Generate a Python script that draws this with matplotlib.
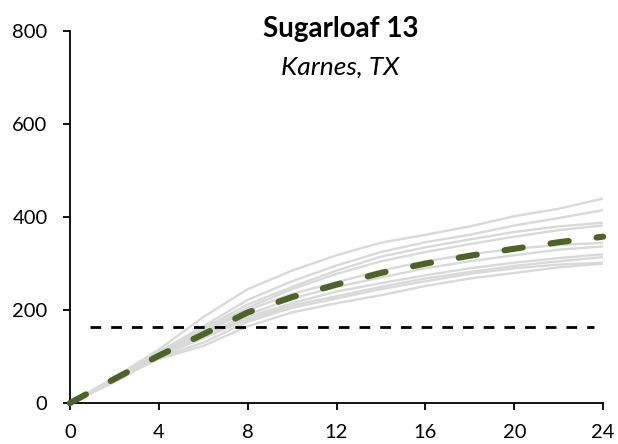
import matplotlib
matplotlib.use('Agg')
import matplotlib.pyplot as plt

plt.rcParams['font.family'] = ['Lato', 'DejaVu Sans']

months = [0, 2, 4, 6, 8, 10, 12, 14, 16, 18, 20, 22, 24]

# individual wells (gray)
wells = [
    [0, 55, 115, 185, 245, 285, 318, 345, 362, 380, 402, 418, 440],
    [0, 52, 110, 165, 222, 262, 296, 325, 346, 362, 382, 398, 415],
    [0, 50, 108, 160, 212, 250, 285, 315, 335, 352, 368, 380, 388],
    [0, 50, 105, 155, 205, 245, 278, 305, 325, 342, 358, 372, 382],
    [0, 50, 105, 150, 200, 235, 260, 285, 305, 320, 332, 340, 345],
    [0, 48, 100, 145, 190, 225, 250, 270, 290, 305, 318, 330, 337],
    [0, 48, 100, 140, 185, 215, 240, 258, 275, 290, 302, 312, 320],
    [0, 50, 102, 140, 180, 210, 230, 250, 268, 282, 295, 305, 314],
    [0, 45, 98, 130, 175, 205, 225, 245, 262, 278, 290, 298, 302],
    [0, 50, 95, 123, 165, 195, 215, 232, 252, 268, 280, 292, 300],
]
type_curve = [0, 52, 102, 148, 195, 228, 255, 280, 300, 317, 332, 346, 358]
threshold = 164

fig = plt.figure(figsize=(6.18, 4.44), dpi=100)
ax = fig.add_axes([0.113, 0.092, 0.863, 0.838])

for w in wells:
    ax.plot(months, w, color='#d9d9d9', lw=1.7, zorder=1)

ax.plot([0.9, 23.6], [threshold, threshold], color='black', lw=2.0,
        dashes=(3.85, 3.6), zorder=2)
ax.plot(months, type_curve, color='#4f6228', lw=4.4, dashes=(3, 4.6),
        zorder=3, clip_on=False, dash_capstyle='round')

ax.set_xlim(0, 24)
ax.set_ylim(0, 800)
ax.set_xticks(range(0, 25, 4))
ax.set_yticks(range(0, 801, 200))
ax.spines['top'].set_visible(False)
ax.spines['right'].set_visible(False)
for s in ('left', 'bottom'):
    ax.spines[s].set_linewidth(1.3)
ax.tick_params(direction='out', length=5, width=1.3, labelsize=14.5)
ax.tick_params(axis='y', pad=11)
ax.tick_params(axis='x', pad=10)

fig.text(0.551, 0.9167, 'Sugarloaf 13', ha='center', va='baseline',
         fontsize=20, fontweight='bold')
fig.text(0.551, 0.831, 'Karnes, TX', ha='center', va='baseline',
         fontsize=19, fontstyle='italic')

fig.savefig('out.png', dpi=100)
